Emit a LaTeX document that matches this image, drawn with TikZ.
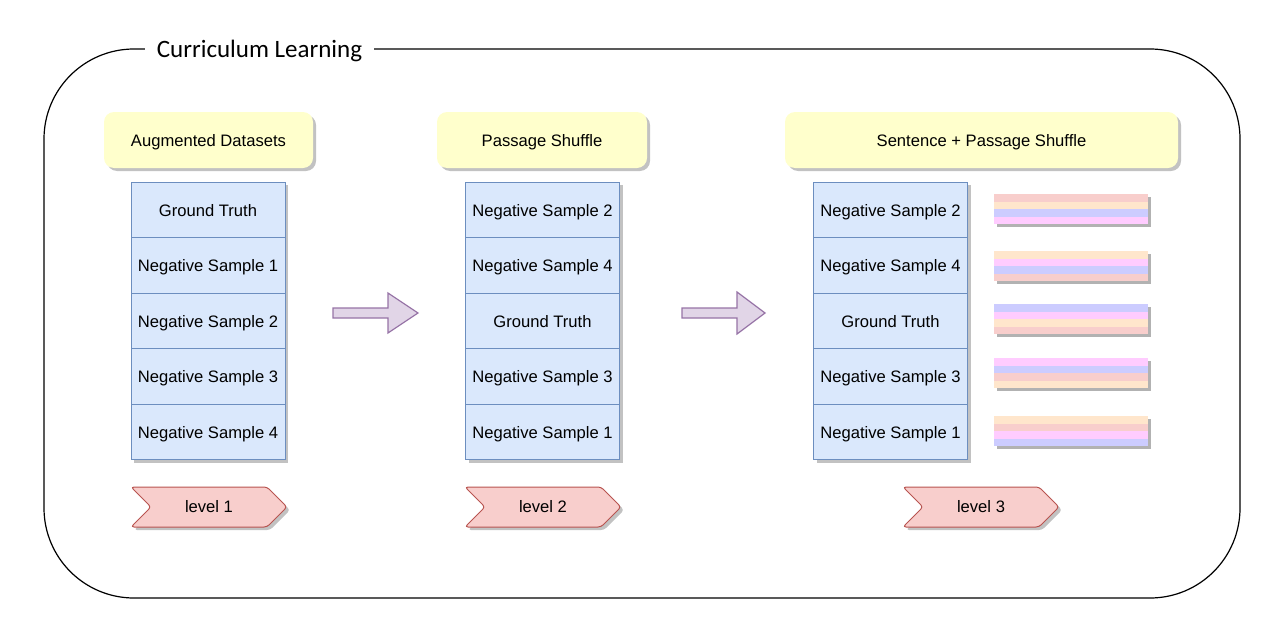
\documentclass[tikz,border=0pt]{standalone}
\usepackage{fontspec}
\setmainfont{Liberation Sans}
\newfontfamily\titlefont{Carlito}
\usetikzlibrary{shapes.symbols,shadows}
\definecolor{cellfill}{HTML}{DAE8FC}
\definecolor{celldraw}{HTML}{6C8EBF}
\definecolor{headfill}{HTML}{FFFFCC}
\definecolor{tagfill}{HTML}{F8CECC}
\definecolor{tagdraw}{HTML}{B85450}
\definecolor{arrfill}{HTML}{E1D5E7}
\definecolor{arrdraw}{HTML}{9673A6}
\definecolor{sred}{HTML}{F8CECC}
\definecolor{speach}{HTML}{FFE6CC}
\definecolor{slav}{HTML}{CCCCFF}
\definecolor{spink}{HTML}{FFCCFF}

\begin{document}
\begin{tikzpicture}[x=0.5pt, y=-0.5pt, font=\fontsize{8.3}{10}\selectfont,
		shade/.style={drop shadow={shadow xshift=1.5pt, shadow yshift=-1.5pt, fill=black!40, opacity=.6}},
		cell/.style={draw=celldraw, fill=cellfill, line width=0.5pt, minimum width=77pt, minimum height=27.75pt, inner sep=0pt, text height=7pt, text depth=1pt, shade},
		header/.style={fill=headfill, rounded corners=5pt, minimum height=28pt, inner sep=0pt, text height=7pt, text depth=1pt, shade},
		tag/.style={signal, signal from=west, signal to=east, signal pointer angle=90, draw=tagdraw, fill=tagfill, line width=0.5pt, rounded corners=1.5pt, minimum width=78pt, minimum height=20pt, inner sep=0pt, shade},
		bigarrow/.style={draw=arrdraw, fill=arrfill, line width=0.6pt}]
			\useasboundingbox (0,0) rectangle (1288,642);
			\draw [rounded corners=45pt, line width=0.6pt] (44,49) rectangle (1240,598);
			\node [fill=white, inner xsep=6pt, font=\titlefont\fontsize{12.5}{14}\selectfont] (title) at (259.5,51) {Curriculum Learning};

			\node [header, minimum width=104.5pt] (head1) at (208.5,140) {Augmented Datasets};
			\node [header, minimum width=105pt] (head2) at (542,140) {Passage Shuffle};
			\node [header, minimum width=196.5pt] (head3) at (981.5,140) {Sentence + Passage Shuffle};

			\foreach \t [count=\i] in {Ground Truth, Negative Sample 1, Negative Sample 2, Negative Sample 3, Negative Sample 4}
				\node [cell] (a\i) at (208,154.5+55.5*\i) {\t};
			\foreach \t [count=\i] in {Negative Sample 2, Negative Sample 4, Ground Truth, Negative Sample 3, Negative Sample 1}
				\node [cell] (b\i) at (542.5,154.5+55.5*\i) {\t};
			\foreach \t [count=\i] in {Negative Sample 2, Negative Sample 4, Ground Truth, Negative Sample 3, Negative Sample 1}
				\node [cell] (c\i) at (890.5,154.5+55.5*\i) {\t};

			\foreach \y/\ca/\cb/\cc/\cd in {194/sred/speach/slav/spink, 251/speach/spink/slav/sred, 304/slav/spink/speach/sred, 358/spink/slav/sred/speach, 416/speach/sred/spink/slav} {
				\fill [black!30] (997,\y+3) rectangle (1151,\y+33);
				\fill [\ca] (994,\y) rectangle (1148,\y+7.5);
				\fill [\cb] (994,\y+7.5) rectangle (1148,\y+15);
				\fill [\cc] (994,\y+15) rectangle (1148,\y+22.5);
				\fill [\cd] (994,\y+22.5) rectangle (1148,\y+30);
			}

			\draw [bigarrow] (333,308) -- (388,308) -- (388,293) -- (418,313) -- (388,333) -- (388,318) -- (333,318) -- cycle;
			\draw [bigarrow] (682,308) -- (737,308) -- (737,292) -- (765,313) -- (737,334) -- (737,318) -- (682,318) -- cycle;

			\node [tag] (lv1) at (209,507) {level 1};
			\node [tag] (lv2) at (543,507) {level 2};
			\node [tag] (lv3) at (981,507) {level 3};
	\end{tikzpicture}
\end{document}
